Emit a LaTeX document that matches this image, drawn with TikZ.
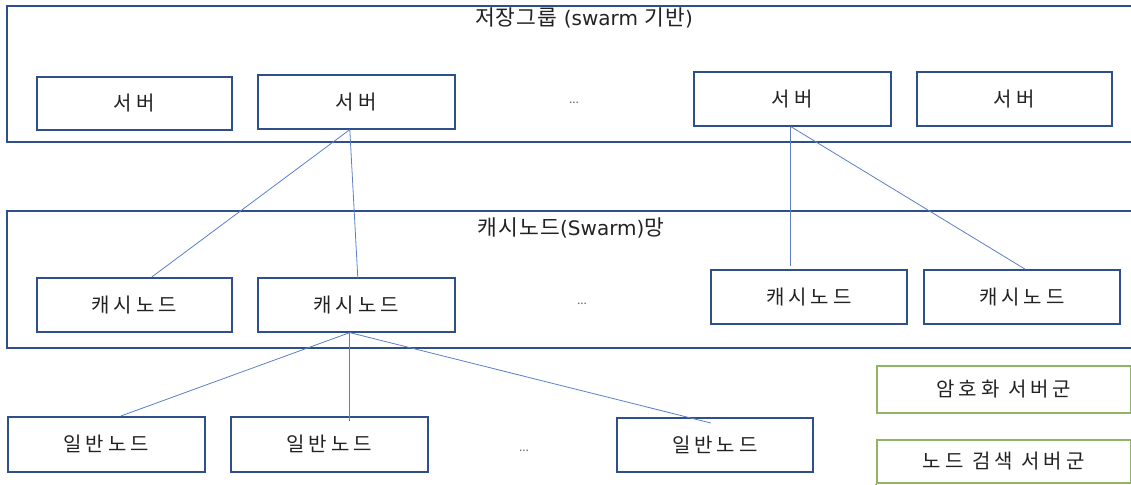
\documentclass[tikz,border=0pt]{standalone}
\usepackage{fontspec}
\newfontfamily\kr{Noto Sans CJK KR}[LetterSpace=20]
\newfontfamily\krt{Noto Sans CJK KR}[LetterSpace=5]
\newfontfamily\lat{DejaVu Sans}
\newfontfamily\krn{Noto Sans CJK KR}
\definecolor{boxblue}{HTML}{2F4F8A}
\definecolor{lineblue}{HTML}{5B7FC7}
\definecolor{boxgreen}{HTML}{8DB564}
\definecolor{txt}{HTML}{222222}
\tikzset{
  box/.style={draw=boxblue, line width=1.6pt, anchor=north west, inner sep=0pt,
    font=\kr\fontsize{20}{22}\selectfont, text=txt},
  gbox/.style={draw=boxgreen, line width=1.6pt, anchor=north west, inner sep=0pt,
    font=\kr\fontsize{20}{22}\selectfont, text=txt},
  group/.style={draw=boxblue, line width=1.4pt},
  conn/.style={draw=lineblue, line width=0.8pt},
  dots/.style={font=\krn\fontsize{12}{13}\selectfont, text=black!60},
  ttl/.style={font=\fontsize{21.5}{23}\selectfont, text=txt}
}
\newcommand{\latt}[1]{{\lat\fontsize{20}{23}\selectfont #1}}
\begin{document}
\begin{tikzpicture}[x=1pt,y=-1pt]
\useasboundingbox (0,0) rectangle (1131,484);
\begin{scope}
\clip (0,0) rectangle (1131,484);
% groups
\draw[group] (7,6) rectangle (1145,142);
\draw[group] (7,211) rectangle (1145,348);
\node[ttl] (t1) at (584,18) {{\krt 저장그룹}\latt{ (swarm }{\krt 기반}\latt{)}};
\node[ttl] (t2) at (571,228) {{\krt 캐시노드}\latt{(Swarm)}{\krt 망}};
% servers
\node[box, minimum width=195, minimum height=53] (s1) at (36,76) {서버};
\node[box, minimum width=197, minimum height=54] (s2) at (257,74) {서버};
\node[box, minimum width=197, minimum height=54] (s3) at (693,71) {서버};
\node[box, minimum width=195, minimum height=54] (s4) at (916,71) {서버};
\node[dots] (d1) at (574,103) {...};
% cache nodes
\node[box, minimum width=195, minimum height=54] (c1) at (36,277) {캐시노드};
\node[box, minimum width=197, minimum height=54] (c2) at (257,277) {캐시노드};
\node[box, minimum width=196, minimum height=54] (c3) at (710,269) {캐시노드};
\node[box, minimum width=196, minimum height=54] (c4) at (923,269) {캐시노드};
\node[dots] (d2) at (582,304) {...};
% normal nodes
\node[box, minimum width=197, minimum height=55] (n1) at (7,416) {일반노드};
\node[box, minimum width=197, minimum height=55] (n2) at (230,416) {일반노드};
\node[box, minimum width=196, minimum height=54] (n3) at (616,417) {일반노드};
\node[dots] (d3) at (524,451) {...};
% green boxes
\node[gbox, minimum width=254, minimum height=47] (g1) at (876,365) {암호화 서버군};
\node[gbox, minimum width=254, minimum height=43] (g2) at (876,439) {노드 검색 서버군};
\draw[boxgreen, line width=1.6pt] (g2.south west) -- ++(0,6);
\draw[boxgreen, line width=1.6pt] (g2.south east) -- ++(0,6);
% connectors
\coordinate (s2b) at ([xshift=-6.5]s2.south);
\coordinate (s3b) at ([xshift=-1.5]s3.south);
\coordinate (c2b) at ([xshift=-6.5]c2.south);
\draw[conn] (s2b) -- ([xshift=17.5]c1.north);
\draw[conn] (s2b) -- ([xshift=1.5,yshift=-1]c2.north);
\draw[conn] (s3b) -- ([xshift=-18,yshift=3]c3.north);
\draw[conn] (s3b) -- ([xshift=3]c4.north);
\draw[conn] (c2b) -- ([xshift=14.5]n1.north);
\draw[conn] (c2b) -- ([xshift=20.5,yshift=-5]n2.north);
\draw[conn] (c2b) -- ([xshift=-4,yshift=-6]n3.north);
\end{scope}
\end{tikzpicture}
\end{document}
